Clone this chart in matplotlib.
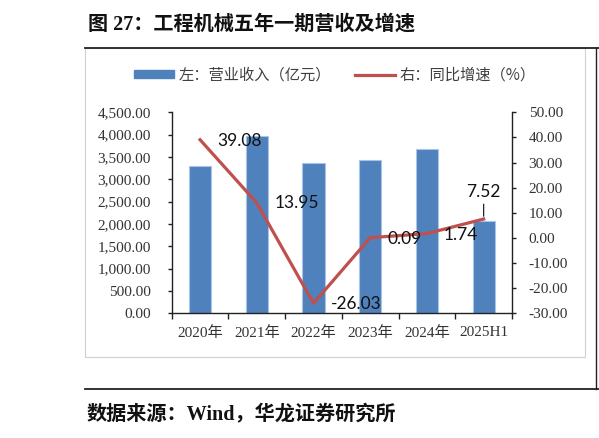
import matplotlib
matplotlib.use("Agg")
import matplotlib.pyplot as plt
from matplotlib.lines import Line2D
from matplotlib.patches import Rectangle, Patch
from matplotlib.ticker import FuncFormatter, FixedLocator

plt.rcParams['font.family'] = ['Liberation Serif', 'Noto Sans CJK SC']

# 数据
years = ['2020年', '2021年', '2022年', '2023年', '2024年', '2025H1']
revenue = [3306, 3978, 3366, 3425, 3672, 2067]      # 营业收入（亿元）
growth = [39.08, 13.95, -26.03, 0.09, 1.74, 7.52]    # 同比增速（%）

W, H = 599, 438
BLUE = '#4F81BD'
RED = '#C0504D'
TXT = '#333333'


def fx(px):
    return px / W


def fy(py):
    return 1 - py / H


fig = plt.figure(figsize=(W / 100, H / 100), dpi=100)

# 外框和分隔线
fig.add_artist(Rectangle((fx(85), fy(357)), fx(585) - fx(85), fy(48) - fy(357),
                         transform=fig.transFigure, fill=False,
                         edgecolor='#D0D0D0', lw=0.8))
fig.add_artist(Line2D([fx(85), 1], [fy(48), fy(48)], transform=fig.transFigure,
                      color='#222222', lw=1.3))
fig.add_artist(Line2D([fx(85), 1], [fy(389), fy(389)], transform=fig.transFigure,
                      color='#222222', lw=1.3))
fig.add_artist(Line2D([fx(596), fx(596)], [fy(48), fy(389)], transform=fig.transFigure,
                      color='#222222', lw=1.0))

# 标题、来源
fig.text(fx(88), fy(25), '图 27：工程机械五年一期营收及增速', fontsize=14.5,
         fontweight='bold', va='center', ha='left', color='#111111')
fig.text(fx(87), fy(414), '数据来源：Wind，华龙证券研究所', fontsize=14.5,
         fontweight='bold', va='center', ha='left', color='#111111')

ax = fig.add_axes([fx(171.7), fy(313.3), fx(512) - fx(171.7), fy(112.3) - fy(313.3)])
x = list(range(len(years)))
ax.bar(x, revenue, width=0.39, color=BLUE, edgecolor='#A9C4E4', linewidth=0.8, zorder=2)
ax.set_xlim(-0.5, len(years) - 0.5)
ax.set_ylim(0, 4500)
ax.set_yticks(range(0, 4501, 500))
ax.yaxis.set_major_formatter(FuncFormatter(lambda v, p: f'{v:,.2f}'))
ax.set_xticks(x)
ax.set_xticklabels(years)
ax.xaxis.set_minor_locator(FixedLocator([i - 0.5 for i in range(len(years) + 1)]))
ax.tick_params(axis='x', which='major', length=0, pad=9, labelsize=11, labelcolor=TXT)
ax.tick_params(axis='x', which='minor', length=4, width=1, direction='out', color='#222222')
ax.tick_params(axis='y', length=3, width=1, direction='out', pad=12, labelsize=11,
               labelcolor=TXT, color='#222222')
for s in ['top', 'right']:
    ax.spines[s].set_visible(False)
for s in ['left', 'bottom']:
    ax.spines[s].set_color('#222222')
    ax.spines[s].set_linewidth(1.0)

ax2 = ax.twinx()
ax2.plot(x, growth, color=RED, lw=2.3, zorder=3)
ax2.set_ylim(-30, 50)
ax2.set_yticks(range(-30, 51, 10))
ax2.yaxis.set_major_formatter(FuncFormatter(lambda v, p: f'{v:.2f}'))
ax2.tick_params(axis='y', length=3, width=1, direction='out', pad=9, labelsize=11,
                labelcolor=TXT, color='#222222')
for s in ['top', 'left', 'bottom']:
    ax2.spines[s].set_visible(False)
ax2.spines['right'].set_color('#222222')
ax2.spines['right'].set_linewidth(1.0)

# 数据标签 (像素偏移)
offsets = [(40, -1.5), (40, 0), (43, -1), (34, -1.5), (34, -1.5), (0, 27)]
for i, v in enumerate(growth):
    dx, dy = offsets[i]
    kw = {}
    if i == len(growth) - 1:
        kw['arrowprops'] = dict(arrowstyle='-', color='#222222', lw=0.9,
                                shrinkA=1, shrinkB=2)
    ax2.annotate(f'{v:.2f}', (i, v), xytext=(dx, dy), textcoords='offset pixels',
                 ha='center', va='center', fontsize=12.5, family='Lato',
                 color='#111111', zorder=5, **kw)

# 图例
handles = [Patch(facecolor=BLUE, edgecolor=BLUE),
           Line2D([0], [0], color=RED, lw=2.3)]
labels = ['左：营业收入（亿元）', '右：同比增速（%）']
fig.legend(handles, labels, loc='center', bbox_to_anchor=(fx(335), fy(75)), ncol=2,
           frameon=False, prop={'family': 'Noto Sans CJK SC', 'size': 11},
           labelcolor='#404040', handlelength=2.6, handleheight=0.45,
           handletextpad=0.3, columnspacing=1.6, borderpad=0)

fig.savefig('out.png', dpi=100)
